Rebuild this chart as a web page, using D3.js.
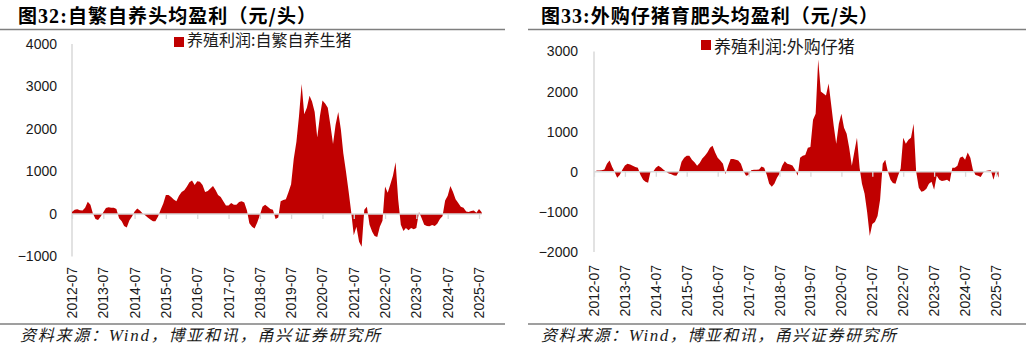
<!DOCTYPE html>
<html><head><meta charset="utf-8">
<script src="https://cdn.jsdelivr.net/npm/d3@7"></script>
<style>body{margin:0;background:#fff} svg{display:block}</style>
</head><body>
<svg id="c" width="1032" height="351"></svg>
<script>
// ---------- data ----------
const startMonth = "2012-07";
const tickLabels = ["2012-07","2013-07","2014-07","2015-07","2016-07","2017-07","2018-07","2019-07","2020-07","2021-07","2022-07","2023-07","2024-07","2025-07"];
const leftYTicks = [-1000, 0, 1000, 2000, 3000, 4000];
const rightYTicks = [-2000, -1000, 0, 1000, 2000, 3000];
const titles = ["图32:自繁自养头均盈利（元/头）", "图33:外购仔猪育肥头均盈利（元/头）"];
const legendLabels = ["养殖利润:自繁自养生猪", "养殖利润:外购仔猪"];
const sourceText = "资料来源：Wind，博亚和讯，甬兴证券研究所";

// monthly profit, 2012-07 .. 2025-08 (yuan / head)
const selfBredProfit = [
  50,100,110,90,80,150,290,220,20,-120,-140,-60,
  40,140,160,150,150,120,-100,-170,-280,-320,-150,-60,
  60,130,80,20,-30,-80,-130,-170,-170,-60,100,250,
  450,450,400,340,300,430,520,560,640,750,790,680,
  770,760,680,520,540,600,660,560,450,400,300,200,
  200,260,220,220,280,300,270,80,-220,-300,-340,-200,
  -30,170,220,170,120,100,-120,-80,300,330,350,520,
  700,1300,1700,2300,3060,2350,2500,2780,2650,2400,1800,2300,
  2670,2600,2500,2100,1650,2100,2400,1980,1430,1000,550,50,
  -500,-300,-650,-770,100,170,-250,-420,-520,-540,-300,-160,
  650,500,700,900,1220,350,-250,-400,-330,-380,-330,-360,
  -330,50,-100,-250,-280,-290,-260,-280,-230,-120,-50,320,
  430,660,520,350,260,170,150,60,50,70,80,30,
  120,40
];
const purchasedPigletProfit = [
  -40,30,30,40,60,200,280,120,0,-150,-80,50,
  160,200,180,150,120,100,-80,-200,-250,-270,20,10,
  100,150,110,50,0,-40,-60,-90,-100,10,250,350,
  400,400,300,240,150,220,330,400,480,600,650,480,
  350,280,200,-60,150,320,320,300,280,200,20,-100,
  -80,40,50,50,60,130,100,-80,-300,-370,-300,-150,
  -50,150,260,200,180,160,50,-100,350,400,420,600,
  620,1300,1450,2800,2000,1950,1900,2200,1700,1150,700,1200,
  1450,1100,950,600,150,500,850,100,-300,-550,-1000,-1600,
  -1300,-1250,-1100,-700,200,300,0,-200,-280,-300,-100,80,
  850,700,800,850,1200,0,-400,-500,-480,-420,-300,-250,
  -450,-100,-200,-230,-220,-200,-250,100,100,150,350,380,
  300,480,350,50,-80,-100,-130,-20,20,30,40,-200,
  30,-150
];

// ---------- drawing ----------
const RED = "#C00000";
const svg = d3.select("#c");
const parse = d3.timeParse("%Y-%m");
const start = parse(startMonth);
const tickDates = tickLabels.map(parse);
const CJK = "'Noto Sans CJK SC','Noto Sans',sans-serif";
const NUM = "'Liberation Sans',Arial,sans-serif";

const panels = [
  {values: selfBredProfit, yTicks: leftYTicks, title: titles[0], legend: legendLabels[0],
   xr: [72, 479], yr: [256.5, 44], rule: [0, 505], titleX: 18, titleW: 298,
   legX: 174, legY: 37, legFs: 16, legBase: 45.5, srcX: 20, srcW: 360, labelX: 57, lblTop: 267},
  {values: purchasedPigletProfit, yTicks: rightYTicks, title: titles[1], legend: legendLabels[1],
   xr: [594, 996], yr: [252, 51.5], rule: [528, 1026], titleX: 541, titleW: 337,
   legX: 701, legY: 40, legFs: 17, legBase: 52.5, srcX: 541, srcW: 355, labelX: 578, lblTop: 265}
];

panels.forEach(p => {
  const g = svg.append("g");
  const data = p.values.map((v, i) => ({d: d3.timeMonth.offset(start, i), v}));
  const x = d3.scaleTime().domain([tickDates[0], tickDates[tickDates.length - 1]]).range(p.xr);
  const y = d3.scaleLinear().domain([p.yTicks[0], p.yTicks[p.yTicks.length - 1]]).range(p.yr);

  // title
  const m = p.title.match(/^(图)(\d+:)(.*)$/);
  const t = g.append("text").attr("x", p.titleX).attr("y", 23)
    .attr("font-size", 19).attr("font-weight", "bold").attr("fill", "#000")
    .attr("textLength", p.titleW).attr("lengthAdjust", "spacing");
  t.append("tspan").attr("font-family", CJK).text(m[1]);
  t.append("tspan").attr("font-family", "'Liberation Serif','Times New Roman',serif").attr("font-size", 20).text(m[2]);
  t.append("tspan").attr("font-family", CJK).text(m[3]);

  // rules
  [29.5, 324].forEach(yy => g.append("line").attr("x1", p.rule[0]).attr("x2", p.rule[1])
    .attr("y1", yy).attr("y2", yy).attr("stroke", "#7f7f7f").attr("stroke-width", 1.3));

  // legend
  g.append("rect").attr("x", p.legX).attr("y", p.legY).attr("width", 10).attr("height", 10).attr("fill", RED);
  g.append("text").attr("x", p.legX + 13).attr("y", p.legBase).attr("font-family", CJK)
    .attr("font-size", p.legFs).attr("fill", "#1a1a1a").text(p.legend);

  // y axis line
  g.append("line").attr("x1", p.xr[0]).attr("x2", p.xr[0]).attr("y1", p.yr[1]).attr("y2", p.yr[0])
    .attr("stroke", "#d9d9d9").attr("stroke-width", 1.5);

  // area
  const area = d3.area().x(d => x(d.d)).y0(y(0)).y1(d => y(d.v)).curve(d3.curveLinear);
  g.append("path").datum(data).attr("d", area).attr("fill", RED);

  // zero axis line with ticks
  const lastX = x(data[data.length - 1].d);
  g.append("line").attr("x1", p.xr[0]).attr("x2", lastX).attr("y1", y(0)).attr("y2", y(0))
    .attr("stroke", "#d9d9d9").attr("stroke-width", 1.5);
  const xAxis = d3.axisBottom(x).tickValues(tickDates).tickSize(5).tickFormat("");
  const ax = g.append("g").attr("transform", `translate(0,${y(0)})`).call(xAxis);
  ax.select(".domain").remove();
  ax.selectAll(".tick line").attr("stroke", "#d9d9d9").attr("stroke-width", 1.3);

  // y labels
  const yAxis = d3.axisLeft(y).tickValues(p.yTicks).tickSize(0).tickFormat(d3.format("d"));
  const ay = g.append("g").attr("transform", `translate(${p.labelX},0)`).call(yAxis);
  ay.select(".domain").remove();
  ay.selectAll("text").attr("font-family", NUM).attr("font-size", 14).attr("fill", "#1a1a1a").attr("x", 0);

  // x labels rotated
  g.selectAll(".xl").data(tickDates).enter().append("text")
    .attr("transform", (d, i) => `translate(${x(d) + 5},${p.lblTop}) rotate(-90)`)
    .attr("text-anchor", "end").attr("font-family", NUM).attr("font-size", 14).attr("fill", "#1a1a1a")
    .text((d, i) => tickLabels[i]);

  // source
  const parts = sourceText.split("Wind");
  const s = g.append("text").attr("x", p.srcX).attr("y", 341).attr("font-size", 16)
    .attr("font-style", "italic").attr("fill", "#1a1a1a")
    .attr("textLength", p.srcW).attr("lengthAdjust", "spacing");
  s.append("tspan").attr("font-family", CJK).text(parts[0]);
  s.append("tspan").attr("font-family", "'Liberation Serif',serif").attr("font-size", 17).text("Wind");
  s.append("tspan").attr("font-family", CJK).text(parts[1]);
});
</script>
</body></html>
